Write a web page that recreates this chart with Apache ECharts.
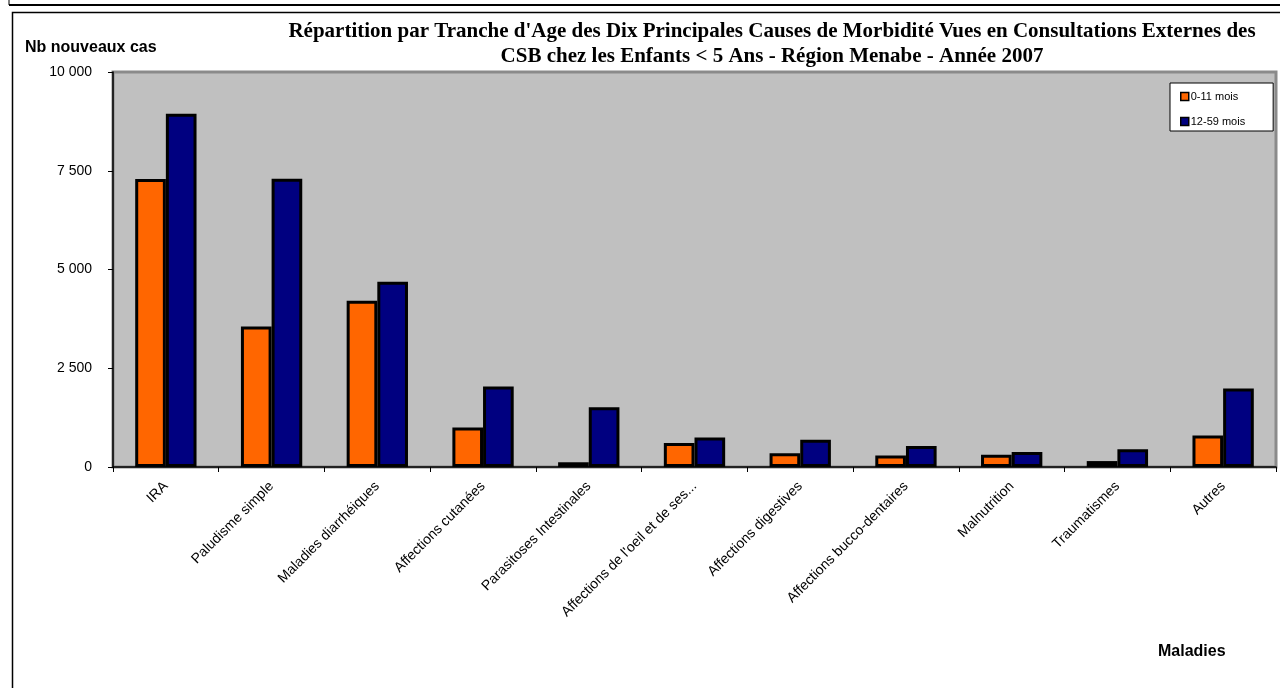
<!DOCTYPE html>
<html>
<head>
<meta charset="utf-8">
<style>
html,body{margin:0;padding:0;background:#fff;}
#chart{width:1280px;height:688px;}
</style>
<script src="https://cdn.jsdelivr.net/npm/echarts@6/dist/echarts.min.js"></script>
</head>
<body>
<div id="chart"></div>
<script>
var categories = ["IRA", "Paludisme simple", "Maladies diarrhéiques", "Affections cutanées", "Parasitoses Intestinales", "Affections de l'oeil et de ses...", "Affections digestives", "Affections bucco-dentaires", "Malnutrition", "Traumatismes", "Autres"];
var seriesNames = ["0-11 mois", "12-59 mois"];
var values0to11 = [7290, 3560, 4210, 1000, 120, 610, 350, 290, 310, 150, 800];
var values12to59 = [8940, 7300, 4690, 2040, 1510, 750, 690, 530, 380, 450, 1990];
var yTicks = [0, 2500, 5000, 7500, 10000];
var titleLines = ["Répartition par Tranche d'Age des Dix Principales Causes de Morbidité Vues en Consultations Externes des", "CSB chez les Enfants < 5 Ans - Région Menabe - Année 2007"];

function fmt(v) {
  return String(v).replace(/\B(?=(\d{3})+(?!\d))/g, ' ');
}

var chart = echarts.init(document.getElementById('chart'), null, {renderer: 'canvas'});
var option = {
  animation: false,
  backgroundColor: '#ffffff',
  textStyle: {fontFamily: 'Liberation Sans, Arial, sans-serif'},
  graphic: [
    {type: 'line', shape: {x1: 9, y1: 5, x2: 1280, y2: 5}, style: {stroke: '#000', lineWidth: 2}},
    {type: 'line', shape: {x1: 9, y1: 0, x2: 9, y2: 5}, style: {stroke: '#000', lineWidth: 1}},
    {type: 'rect', shape: {x: 12.5, y: 12.5, width: 1290, height: 700}, style: {fill: 'none', stroke: '#000', lineWidth: 1.5}},
    {type: 'text', x: 772, y: 21, style: {text: titleLines[0], font: 'bold 21px "Liberation Serif", "Times New Roman", serif', fill: '#000', textAlign: 'center', textVerticalAlign: 'top'}},
    {type: 'text', x: 772, y: 46, style: {text: titleLines[1], font: 'bold 21px "Liberation Serif", "Times New Roman", serif', fill: '#000', textAlign: 'center', textVerticalAlign: 'top'}},
    {type: 'text', x: 25, y: 40, style: {text: 'Nb nouveaux cas', font: 'bold 16px "Liberation Sans", Arial, sans-serif', fill: '#000', textAlign: 'left', textVerticalAlign: 'top'}},
    {type: 'text', x: 1158, y: 644, style: {text: 'Maladies', font: 'bold 16px "Liberation Sans", Arial, sans-serif', fill: '#000', textAlign: 'left', textVerticalAlign: 'top'}}
  ],
  legend: {
    orient: 'vertical',
    left: 1170,
    top: 83,
    width: 103,
    backgroundColor: '#ffffff',
    borderColor: '#000',
    borderWidth: 1,
    padding: [8, 28, 4, 10],
    itemWidth: 8,
    itemHeight: 8,
    itemGap: 14,
    icon: 'rect',
    itemStyle: {borderColor: '#000', borderWidth: 1.5},
    textStyle: {fontSize: 11, color: '#000', fontFamily: 'Liberation Sans, Arial, sans-serif', padding: [0, 0, 0, -3]},
    data: seriesNames
  },
  grid: {
    left: 113,
    right: 4,
    top: 72,
    bottom: 221,
    show: true,
    backgroundColor: '#c0c0c0',
    borderColor: '#8a8a8a',
    borderWidth: 3,
    containLabel: false
  },
  xAxis: {
    type: 'category',
    data: categories,
    boundaryGap: true,
    axisLine: {lineStyle: {color: '#000', width: 1.5}},
    axisTick: {show: true, alignWithLabel: false, length: 5, lineStyle: {color: '#000'}},
    axisLabel: {rotate: 45, interval: 0, fontSize: 14, color: '#000', margin: 17, fontFamily: 'Liberation Sans, Arial, sans-serif'},
    splitLine: {show: false}
  },
  yAxis: {
    type: 'value',
    min: 0,
    max: 10000,
    interval: 2500,
    axisLine: {show: true, lineStyle: {color: '#000', width: 1.5}},
    axisTick: {show: true, inside: false, length: 5, lineStyle: {color: '#000'}},
    axisLabel: {fontSize: 14, color: '#000', margin: 21, fontFamily: 'Liberation Sans, Arial, sans-serif',
      formatter: function (v) { return yTicks.indexOf(v) >= 0 ? fmt(v) : ''; }},
    splitLine: {show: false}
  },
  series: [
    {
      name: seriesNames[0],
      type: 'bar',
      data: values0to11,
      barGap: '0%',
      barCategoryGap: '42%',
      itemStyle: {color: '#ff6600', borderColor: '#000', borderWidth: 3}
    },
    {
      name: seriesNames[1],
      type: 'bar',
      data: values12to59,
      barGap: '0%',
      barCategoryGap: '42%',
      itemStyle: {color: '#000080', borderColor: '#000', borderWidth: 3}
    }
  ]
};
chart.setOption(option);
</script>
</body>
</html>
